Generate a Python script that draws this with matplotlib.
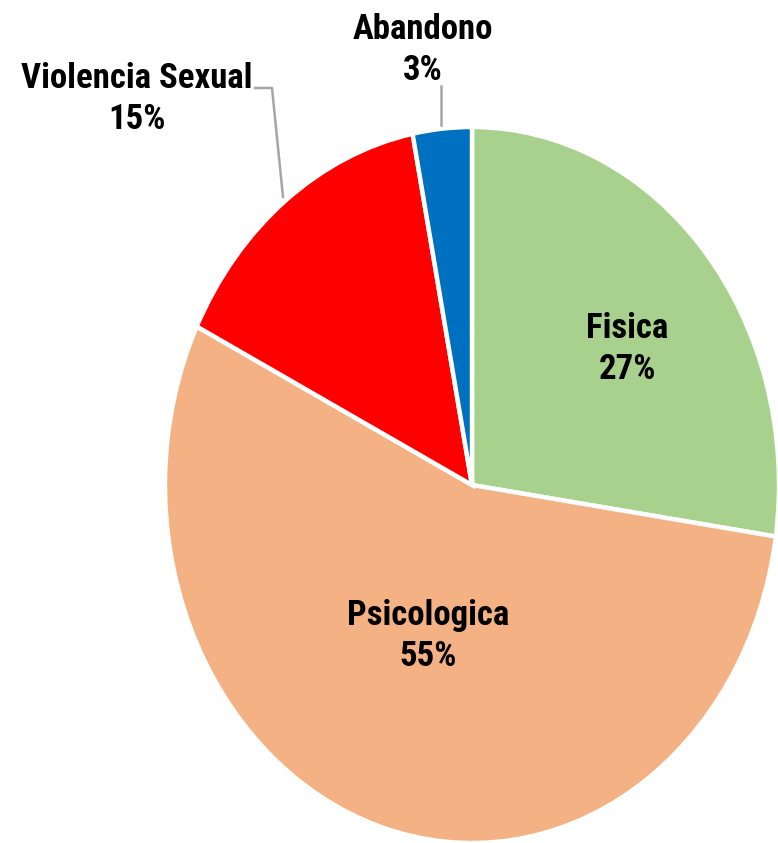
import matplotlib
matplotlib.use("Agg")
import matplotlib.pyplot as plt
from matplotlib import font_manager

categories = ["Fisica", "Psicologica", "Violencia Sexual", "Abandono"]
values = [27.3, 55.0, 14.6, 3.1]
colors = ["#a9d18e", "#f4b183", "#ff0000", "#0070c0"]

avail = {f.name for f in font_manager.fontManager.ttflist}
fam = ["Liberation Sans Narrow", "DejaVu Sans"] if "Liberation Sans Narrow" in avail else ["Roboto Condensed", "DejaVu Sans"]
plt.rcParams['font.family'] = fam

W, H = 778, 843
fig = plt.figure(figsize=(W / 100, H / 100), dpi=100)
# pie bounding box in pixels: x 165..779, y 127..843
ax = fig.add_axes([165 / W, 0 / H, 614 / W, 716 / H])
ax.pie(values, colors=colors, startangle=90, counterclock=False,
       wedgeprops=dict(edgecolor="white", linewidth=3.2))
ax.set_aspect('auto')
ax.set_xlim(-1, 1)
ax.set_ylim(-1, 1)
ax.axis('off')

def px(x, y):
    return ((x - 472) / 307, (485 - y) / 358)

fs = 25
tk = dict(ha="center", va="center", fontsize=fs, fontweight="bold", color="#000000",
          clip_on=False, linespacing=1.3)
total = sum(values)
pct = [f"{round(v / total * 100):.0f}%" for v in values]
pos = [px(627, 349), px(428, 636), px(137, 99), px(423, 50)]
for c, p, (x, y) in zip(categories, pct, pos):
    ax.text(x, y, f"{c}\n{p}", **tk)

# leader lines
l1 = [px(255, 88), px(272, 88), px(283, 197)]
ax.plot([p[0] for p in l1], [p[1] for p in l1], color="#a6a6a6", lw=1.8, clip_on=False)
l2 = [px(441, 86), px(441, 125)]
ax.plot([p[0] for p in l2], [p[1] for p in l2], color="#a6a6a6", lw=1.8, clip_on=False)

fig.savefig("out.png", dpi=100)
